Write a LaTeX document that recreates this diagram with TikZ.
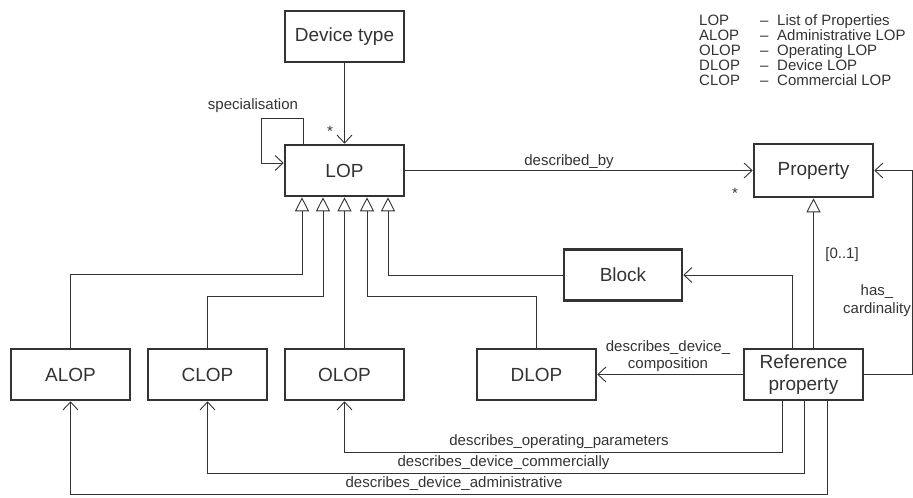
\documentclass[tikz,border=0pt]{standalone}
\usepackage{fontspec}
\setmainfont{Liberation Sans}
\usetikzlibrary{arrows.meta,calc}
\definecolor{ink}{HTML}{333333}
\begin{document}
\begin{tikzpicture}[x=1pt,y=-1pt,
  box/.style={draw=ink,line width=2.6pt,minimum width=119pt,minimum height=51pt,inner sep=0pt,
    font=\fontsize{19}{22}\selectfont,text=ink,align=center},
  lbl/.style={font=\fontsize{15}{18}\selectfont,text=ink,inner sep=0pt,align=center},
  conn/.style={draw=ink,line width=0.9pt},
  assoc/.style={conn,-{Straight Barb[length=8pt,width=15pt,line width=0.9pt]}},
  gen/.style={conn,-{Triangle[open,fill=white,length=14pt,width=14pt,line width=0.9pt]}}]
\useasboundingbox (0,0) rectangle (913,498);
% boxes
\node[box] (dt) at (344.5,36.5) {Device type};
\node[box] (lop) at (344.5,170.5) {LOP};
\node[box,minimum height=53pt] (prop) at (813.5,170.5) {Property};
\node[box,minimum width=118pt] (block) at (623,275) {Block};
\node[box] (alop) at (70.5,374.5) {ALOP};
\node[box] (clop) at (207.5,374.5) {CLOP};
\node[box] (olop) at (344.5,374.5) {OLOP};
\node[box] (dlop) at (536.5,374.5) {DLOP};
\node[box] (ref) at (803.5,374.5) {Reference\\property};
% associations
\draw[assoc] (dt.south) -- (lop.north);
\draw[assoc] (lop.north -| 303,0) -- (303,118) -- (261,118) -- (261,163) -- (lop.west |- 0,163);
\draw[assoc] (lop.east) -- (prop.west);
\draw[assoc] (ref.north -| 792,0) |- (block.east);
\draw[assoc] (ref.west) -- (dlop.east);
\draw[assoc] (ref.east) -- (912,374.5) |- (prop.east);
\draw[assoc] (ref.south -| 782,0) -- (782,452) -| (olop.south);
\draw[assoc] (ref.south -| 804,0) -- (804,473) -| (clop.south);
\draw[assoc] (ref.south -| 827,0) -- (827,494) -| (alop.south);
% generalisations
\draw[gen] (alop.north) |- (302,274) -- (lop.south -| 302,0);
\draw[gen] (clop.north) |- (323,296) -- (lop.south -| 323,0);
\draw[gen] (olop.north) -- (lop.south);
\draw[gen] (dlop.north) |- (367,296) -- (lop.south -| 367,0);
\draw[gen] (block.west) -| (lop.south -| 388,0);
\draw[gen] (prop.south |- ref.north) -- (prop.south);
% labels
\node[lbl] (lspec) at (253,106) {specialisation};
\node[lbl] (lstar1) at (330,131) {*};
\node[lbl] (ldesc) at (569,162) {described\_by};
\node[lbl] (lstar2) at (735,193) {*};
\node[lbl] (lcard) at (842,255) {[0..1]};
\node[lbl,font=\fontsize{15}{18}\selectfont] (lhas) at (877,301) {has\_\\cardinality};
\node[lbl,font=\fontsize{15}{17}\selectfont] (lcomp) at (668,356) {describes\_device\_\\composition};
\node[lbl] (lop1) at (559,442) {describes\_operating\_parameters};
\node[lbl] (lop2) at (503.5,463) {describes\_device\_commercially};
\node[lbl] (lop3) at (454,484) {describes\_device\_administrative};
% legend
\foreach \a/\b [count=\i] in {LOP/List of Properties,ALOP/Administrative LOP,OLOP/Operating LOP,DLOP/Device LOP,CLOP/Commercial LOP}{
  \node[lbl,anchor=base west] (lga\i) at (699,{10+15*\i}) {\a};
  \node[lbl,anchor=base west] (lgd\i) at (760,{10+15*\i}) {--};
  \node[lbl,anchor=base west] (lgb\i) at (777,{10+15*\i}) {\b};
}
\end{tikzpicture}
\end{document}
